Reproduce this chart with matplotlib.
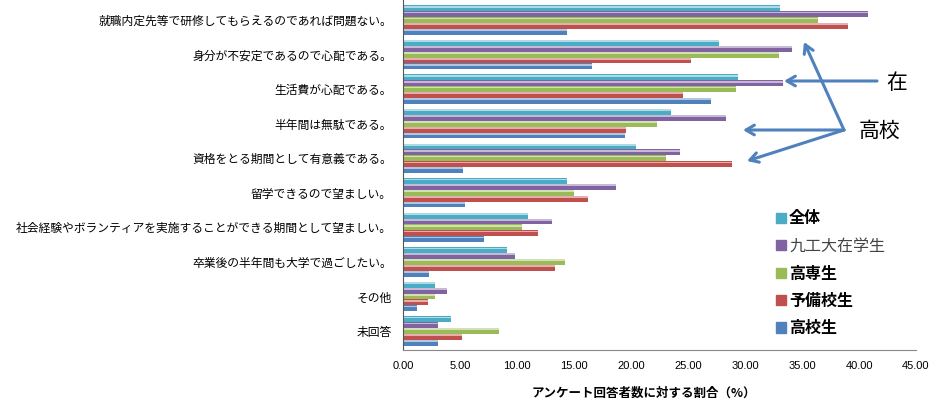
import numpy as np
import matplotlib
matplotlib.use("Agg")
import matplotlib.pyplot as plt
from matplotlib.colors import to_rgb

plt.rcParams['font.family'] = ['Noto Sans CJK JP', 'DejaVu Sans']

categories = [
    '就職内定先等で研修してもらえるのであれば問題ない。',
    '身分が不安定であるので心配である。',
    '生活費が心配である。',
    '半年間は無駄である。',
    '資格をとる期間として有意義である。',
    '留学できるので望ましい。',
    '社会経験やボランティアを実施することができる期間として望ましい。',
    '卒業後の半年間も大学で過ごしたい。',
    'その他',
    '未回答',
]
series_names = ['全体', '九工大在学生', '高専生', '予備校生', '高校生']
zentai = [33.1, 27.7, 29.4, 23.5, 20.4, 14.4, 11.0, 9.15, 2.8, 4.2]
kyukodai = [40.8, 34.1, 33.3, 28.3, 24.3, 18.7, 13.1, 9.8, 3.9, 3.1]
kosen = [36.4, 33.0, 29.2, 22.3, 23.1, 15.0, 10.4, 14.2, 2.8, 8.4]
yobiko = [39.0, 25.3, 24.6, 19.6, 28.9, 16.2, 11.8, 13.3, 2.2, 5.2]
koko = [14.35, 16.55, 27.0, 19.5, 5.3, 5.4, 7.1, 2.3, 1.2, 3.1]
colors = ['#4BACC6', '#8064A2', '#9BBB59', '#C0504D', '#4F81BD']


def lighten(c, f):
    r, g, b = to_rgb(c)
    return (r + (1 - r) * f, g + (1 - g) * f, b + (1 - b) * f)


fig = plt.figure(figsize=(9.35, 4.03), dpi=100)
ax = fig.add_axes([403 / 935, 1 - 350 / 403, 513 / 935, 350 / 403])

y = np.arange(len(categories))
h = 0.17
data = [zentai, kyukodai, kosen, yobiko, koko]
for k, (vals, c, name) in enumerate(zip(data, colors, series_names)):
    pos = y + (k - 2) * h
    ax.barh(pos, vals, height=h, color=c, linewidth=0, label=name)
    # highlight on the upper part to mimic the 3D look
    ax.barh(pos - h * 0.28, vals, height=h * 0.3, color=lighten(c, 0.55), linewidth=0)

ax.set_xlim(0, 45)
ax.set_ylim(9.55, -0.58)
ax.set_yticks(y)
ax.set_yticklabels(categories, fontsize=8.5)
ax.set_xticks(np.arange(0, 46, 5))
ax.set_xticklabels([f'{v:.2f}' for v in np.arange(0, 46, 5)], fontsize=8,
                   family=['Liberation Sans', 'DejaVu Sans'])
ax.tick_params(axis='both', length=0, pad=8)
ax.tick_params(axis='y', pad=8)
for s in ['top', 'right']:
    ax.spines[s].set_visible(False)
ax.spines['left'].set_color('#555555')
ax.spines['bottom'].set_color('#888888')

fig.text(644 / 935, 1 - 393 / 403, 'アンケート回答者数に対する割合（%）',
         ha='center', va='center', fontsize=9, fontweight='bold')

# legend
handles = [plt.Rectangle((0, 0), 1, 1, color=c) for c in colors]
leg = fig.legend(handles, series_names, loc='upper left',
                 bbox_to_anchor=(762 / 935, 1 - 196 / 403), frameon=False,
                 handlelength=0.6, handleheight=0.6, handletextpad=0.2,
                 labelspacing=0.7, prop={'size': 11.5, 'weight': 'bold'})
leg.get_texts()[1].set_fontweight('normal')
leg.get_texts()[1].set_color('#444444')

# annotation arrows (figure pixel coords)
H = 403
arrow_color = '#4F81BD'
fig.text(897 / 935, 1 - 83 / H, '在', ha='center', va='center', fontsize=15)
fig.text(880 / 935, 1 - 131 / H, '高校', ha='center', va='center', fontsize=15)
arrows = [((877, 81), (784, 81)),
          ((844, 130), (804, 42)),
          ((844, 130), (743, 130)),
          ((844, 130), (747, 161))]
for (x0, y0), (x1, y1) in arrows:
    ax.annotate('', xy=(x1, H - y1), xycoords='figure pixels',
                xytext=(x0, H - y0), textcoords='figure pixels',
                arrowprops=dict(arrowstyle='->,head_length=0.6,head_width=0.35',
                                color=arrow_color, lw=2.2, shrinkA=0, shrinkB=0))

fig.savefig('out.png', dpi=100)
